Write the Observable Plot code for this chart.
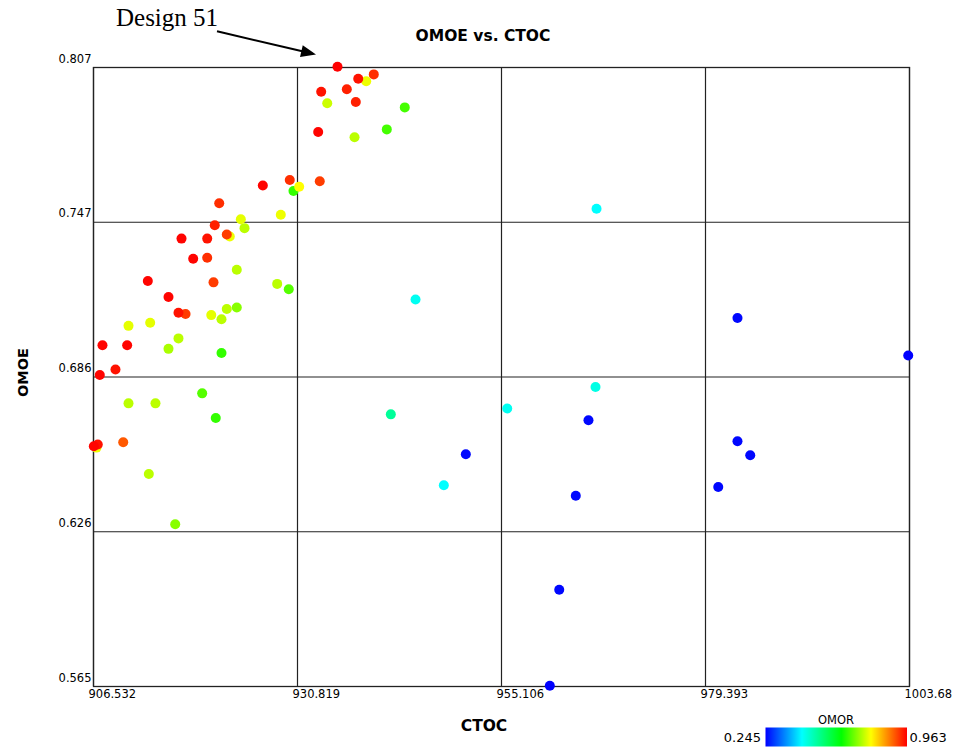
<!DOCTYPE html>
<html>
<head>
<meta charset="utf-8">
<script src="https://cdn.jsdelivr.net/npm/d3@7"></script>
<script src="https://cdn.jsdelivr.net/npm/@observablehq/plot@0.6"></script>
<style>
  html, body { margin: 0; padding: 0; background: #fff; }
  svg { display: block; }
</style>
</head>
<body>
<div id="chart"></div>
<script>
// ---- data ----
const ctoc = [
  935.58, 938.05, 939.90, 939.00, 933.64, 936.69, 934.36, 937.76, 943.59, 933.28,
  941.45, 937.61, 926.69, 929.90, 931.02, 930.34, 933.47, 921.50, 924.07, 924.51,
  928.83, 920.97, 917.01, 920.07, 922.76, 922.40, 918.40, 920.07, 923.59, 913.00,
  920.82, 928.40, 929.78, 915.46, 916.65, 917.49, 920.55, 922.40, 923.59, 921.77,
  910.70, 913.28, 916.65, 915.46, 907.60, 910.54, 921.77, 909.15, 907.28, 919.47,
  910.70, 913.91, 921.09, 906.89, 906.57, 907.04, 910.07, 913.12, 916.26,
  966.42, 944.87, 941.93, 955.79, 966.30, 965.46, 950.86, 948.24, 963.95, 983.20,
  1003.53, 983.20, 984.72, 980.91, 961.98, 960.86
];
const omoe = [
  0.8073, 0.8026, 0.8043, 0.8016, 0.7975, 0.7985, 0.7930, 0.7935, 0.7914, 0.7818,
  0.7828, 0.7797, 0.7609, 0.7630, 0.7604, 0.7587, 0.7625, 0.7539, 0.7477, 0.7442,
  0.7494, 0.7453, 0.7401, 0.7401, 0.7409, 0.7417, 0.7322, 0.7326, 0.7279, 0.7235,
  0.7230, 0.7224, 0.7203, 0.7173, 0.7111, 0.7106, 0.7102, 0.7126, 0.7132, 0.7086,
  0.7060, 0.7072, 0.7011, 0.6970, 0.6984, 0.6984, 0.6954, 0.6889, 0.6868, 0.6796,
  0.6757, 0.6757, 0.6700, 0.6584, 0.6589, 0.6596, 0.6605, 0.6481, 0.6284,
  0.7518, 0.7163, 0.6714, 0.6737, 0.6821, 0.6691, 0.6558, 0.6437, 0.6396, 0.7091,
  0.6944, 0.6609, 0.6554, 0.6430, 0.6028, 0.5653
];
const omor = [
  0.963, 0.95, 0.93, 0.77, 0.95, 0.94, 0.75, 0.94, 0.67, 0.96,
  0.67, 0.74, 0.96, 0.93, 0.78, 0.66, 0.92, 0.93, 0.765, 0.74,
  0.77, 0.94, 0.96, 0.95, 0.77, 0.92, 0.96, 0.93, 0.74, 0.96,
  0.92, 0.74, 0.68, 0.96, 0.95, 0.92, 0.765, 0.74, 0.71, 0.74,
  0.765, 0.765, 0.74, 0.73, 0.96, 0.96, 0.66, 0.95, 0.96, 0.68,
  0.74, 0.74, 0.66, 0.77, 0.96, 0.95, 0.90, 0.74, 0.71,
  0.43, 0.44, 0.51, 0.44, 0.45, 0.25, 0.25, 0.43, 0.25, 0.25,
  0.245, 0.25, 0.25, 0.25, 0.25, 0.245
];

const xTicks = [906.532, 930.819, 955.106, 979.393, 1003.68];
const xTickLabels = ["906.532", "930.819", "955.106", "979.393", "1003.68"];
const yTicks = [0.565, 0.6255, 0.686, 0.7465, 0.807];
const yTickLabels = ["0.565", "0.626", "0.686", "0.747", "0.807"];

const colorDomain = [0.245, 0.43, 0.63, 0.78, 0.963];
const colorRange = ["#0000ff", "#00ffff", "#00ff00", "#ffff00", "#ff0000"];
const legendLabels = ["0.245", "0.963"];

const titleText = "OMOE vs. CTOC";
const xLabel = "CTOC";
const yLabel = "OMOE";
const colorLabel = "OMOR";
const annotationText = "Design 51";
const annotatedIndex = 0;

// ---- table for Plot ----
const data = ctoc.map((x, i) => ({ ctoc: x, omoe: omoe[i], omor: omor[i] }));

const lineColor = "#222";

function overlay(index, scales, values, dimensions) {
  const g = d3.create("svg:g");
  // title
  g.append("text").attr("x", 483).attr("y", 35.5)
    .attr("text-anchor", "middle").attr("dominant-baseline", "central")
    .attr("font-family", "DejaVu Sans").attr("font-weight", "bold").attr("font-size", 15.5)
    .attr("fill", "#000").text(titleText);
  // x label
  g.append("text").attr("x", 484).attr("y", 726)
    .attr("text-anchor", "middle").attr("dominant-baseline", "central")
    .attr("font-family", "DejaVu Sans").attr("font-weight", "bold").attr("font-size", 15.5)
    .attr("fill", "#000").text(xLabel);
  // y label
  g.append("text").attr("transform", "translate(22.5,372.5) rotate(-90)")
    .attr("text-anchor", "middle").attr("dominant-baseline", "central")
    .attr("font-family", "DejaVu Sans").attr("font-weight", "bold").attr("font-size", 14.5)
    .attr("fill", "#000").text(yLabel);

  // annotation arrow to Design 51 (positioned relative to the data point through the scales)
  const d = data[annotatedIndex];
  const px = scales.x(d.ctoc), py = scales.y(d.omoe);
  const sx = px - 120, sy = py - 35;
  const tx = px - 21, ty = py - 11.7;
  const dxv = tx - sx, dyv = ty - sy, len = Math.hypot(dxv, dyv);
  const ux = dxv / len, uy = dyv / len;
  const hl = 15, hw = 6;
  const bx = tx - ux * hl, by = ty - uy * hl;
  g.append("line").attr("x1", sx).attr("y1", sy).attr("x2", bx + ux * 2).attr("y2", by + uy * 2)
    .attr("stroke", "#000").attr("stroke-width", 2);
  g.append("path")
    .attr("d", `M${tx},${ty}L${bx - uy * hw},${by + ux * hw}L${bx + uy * hw},${by - ux * hw}Z`)
    .attr("fill", "#000");
  g.append("text").attr("x", px - 221).attr("y", py - 40.7)
    .attr("text-anchor", "start")
    .attr("font-family", "Liberation Serif").attr("font-size", 25)
    .attr("fill", "#000").text(annotationText);

  // colour legend
  const gradId = "omorGrad";
  const grad = g.append("defs").append("linearGradient").attr("id", gradId)
    .attr("x1", "0%").attr("x2", "100%").attr("y1", "0%").attr("y2", "0%");
  const lo = colorDomain[0], hi = colorDomain[colorDomain.length - 1];
  colorDomain.forEach((v, i) => {
    grad.append("stop").attr("offset", ((v - lo) / (hi - lo) * 100) + "%")
      .attr("stop-color", scales.color ? scales.color(v) : colorRange[i]);
  });
  g.append("rect").attr("x", 765.5).attr("y", 727.5).attr("width", 141.5).attr("height", 19)
    .attr("fill", `url(#${gradId})`);
  g.append("text").attr("x", 836).attr("y", 719.5)
    .attr("text-anchor", "middle").attr("dominant-baseline", "central")
    .attr("font-family", "DejaVu Sans").attr("font-size", 11.5).attr("fill", "#000").text(colorLabel);
  g.append("text").attr("x", 761).attr("y", 737)
    .attr("text-anchor", "end").attr("dominant-baseline", "central")
    .attr("font-family", "DejaVu Sans").attr("font-size", 13).attr("fill", "#000").text(legendLabels[0]);
  g.append("text").attr("x", 909.5).attr("y", 737)
    .attr("text-anchor", "start").attr("dominant-baseline", "central")
    .attr("font-family", "DejaVu Sans").attr("font-size", 13).attr("fill", "#000").text(legendLabels[1]);
  return g.node();
}

const chart = Plot.plot({
  width: 956,
  height: 749,
  marginLeft: 93,
  marginRight: 47,
  marginTop: 67,
  marginBottom: 63,
  style: { fontFamily: "DejaVu Sans", background: "#fff", overflow: "visible" },
  x: { domain: [xTicks[0], xTicks[xTicks.length - 1]] },
  y: { domain: [yTicks[0], yTicks[yTicks.length - 1]] },
  color: { type: "linear", domain: colorDomain, range: colorRange, interpolate: "rgb" },
  marks: [
    Plot.gridX(xTicks, { stroke: lineColor, strokeOpacity: 1, strokeWidth: 1.2 }),
    Plot.gridY(yTicks, { stroke: lineColor, strokeOpacity: 1, strokeWidth: 1.2 }),
    Plot.frame({ stroke: lineColor, strokeWidth: 1.3 }),
    Plot.axisX(xTicks, {
      tickSize: 0, tickPadding: 3, label: null, fontSize: 11.5, fill: "#000",
      textAnchor: "start", dx: -5,
      tickFormat: (v) => xTickLabels[xTicks.indexOf(v)]
    }),
    Plot.axisY(yTicks, {
      tickSize: 0, tickPadding: 2, label: null, fontSize: 11.5, fill: "#000",
      textAnchor: "end", dy: -8.5,
      tickFormat: (v) => yTickLabels[yTicks.indexOf(v)]
    }),
    Plot.dot(data, {
      x: "ctoc", y: "omoe", fill: "omor", r: 5, stroke: null,
      sort: (d) => d.omor, clip: false
    }),
    overlay
  ]
});

document.getElementById("chart").appendChild(chart);
</script>
</body>
</html>
